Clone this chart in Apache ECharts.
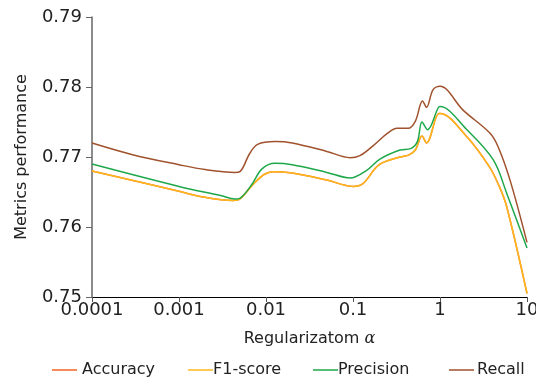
<!DOCTYPE html>
<html>
<head>
<meta charset="utf-8">
<script src="https://cdn.jsdelivr.net/npm/echarts@6/dist/echarts.min.js"></script>
<style>
  html, body { margin: 0; padding: 0; background: #fff; }
  #main { width: 536px; height: 379px; }
</style>
</head>
<body>
<div id="main"></div>
<script>
var myChart = echarts.init(document.getElementById('main'));

var seriesNames = ['Accuracy', 'F1-score', 'Precision', 'Recall'];
var colors = ['#f26522', '#ffb81c', '#1ea84a', '#a0522d'];
var xTickLabels = ['0.0001', '0.001', '0.01', '0.1', '1', '10'];
var yTickLabels = ['0.75', '0.76', '0.77', '0.78', '0.79'];

// [alpha, value] pairs
var accuracy = [
    [0.0001, 0.7680], [0.001, 0.7651], [0.0017, 0.7644], [0.0042, 0.7638], [0.005, 0.7640],
    [0.007, 0.7660], [0.0095, 0.7675], [0.0121, 0.7679], [0.02, 0.7677], [0.05, 0.7667],
    [0.1, 0.7658], [0.13, 0.7662], [0.2, 0.7689], [0.347, 0.7700], [0.44, 0.7703],
    [0.52, 0.7710], [0.62, 0.7730], [0.70, 0.7720], [0.97, 0.7762], [1, 0.7762],
    [2, 0.7730], [3.7, 0.7686], [4.8, 0.7658], [5.85, 0.7629], [10, 0.7505]
];
var f1 = [
    [0.0001, 0.7680], [0.001, 0.7651], [0.0017, 0.7644], [0.0042, 0.7638], [0.005, 0.7640],
    [0.007, 0.7660], [0.0095, 0.7675], [0.0121, 0.7679], [0.02, 0.7677], [0.05, 0.7667],
    [0.1, 0.7658], [0.13, 0.7662], [0.2, 0.7689], [0.347, 0.7700], [0.44, 0.7703],
    [0.52, 0.7710], [0.62, 0.7730], [0.70, 0.7720], [0.97, 0.7762], [1, 0.7762],
    [2, 0.7730], [3.7, 0.7686], [4.8, 0.7658], [5.85, 0.7629], [10, 0.7505]
];
var precision = [
    [0.0001, 0.7690], [0.001, 0.7658], [0.003, 0.7645], [0.0044, 0.7640], [0.005, 0.7641],
    [0.0068, 0.7660], [0.009, 0.7683], [0.0127, 0.7691], [0.02, 0.7689], [0.05, 0.7678],
    [0.0925, 0.7670], [0.1437, 0.7681], [0.204, 0.7697], [0.347, 0.7710], [0.46, 0.7712],
    [0.55, 0.7722], [0.62, 0.7750], [0.72, 0.7739], [0.95, 0.7770], [1, 0.7772],
    [2, 0.7740], [4.1, 0.7696], [5.85, 0.7648], [10, 0.7570]
];
var recall = [
    [0.0001, 0.7720], [0.0003, 0.7703], [0.001, 0.7689], [0.002, 0.7682], [0.0044, 0.7678],
    [0.005, 0.7679], [0.0065, 0.7705], [0.008, 0.7718], [0.0127, 0.7722], [0.02, 0.7720],
    [0.05, 0.7708], [0.0925, 0.7699], [0.12, 0.7702], [0.17, 0.7716], [0.25, 0.7734],
    [0.32, 0.7741], [0.43, 0.7741], [0.52, 0.7751], [0.63, 0.7780], [0.70, 0.7771],
    [0.83, 0.7796], [1, 0.7801], [1.84, 0.7767], [3.76, 0.7734], [4.64, 0.7715],
    [6.38, 0.7667], [10, 0.7578]
];
var allData = [accuracy, f1, precision, recall];

var legendLeft = [52, 188, 313, 449];
var legendTextPad = [0, -5, -5, -2];
var legends = [];
var series = [];
for (var i = 0; i < seriesNames.length; i++) {
    legends.push({
        data: [seriesNames[i]],
        left: legendLeft[i],
        top: 362,
        padding: 0,
        icon: 'rect',
        itemWidth: 25,
        itemHeight: 1.5,
        itemGap: 0,
        textStyle: { color: '#222', fontSize: 16, fontFamily: 'DejaVu Sans', padding: [0, 0, 0, legendTextPad[i]] }
    });
    series.push({
        name: seriesNames[i],
        type: 'line',
        data: allData[i],
        smooth: 0.35,
        showSymbol: false,
        symbol: 'none',
        lineStyle: { width: 1.5, color: colors[i] },
        itemStyle: { color: colors[i] }
    });
}

option = {
    animation: false,
    color: colors,
    legend: legends,
    grid: {
        left: 92,
        right: 9,
        top: 17,
        bottom: 82,
        outerBoundsMode: 'none'
    },
    xAxis: {
        type: 'log',
        logBase: 10,
        min: 0.0001,
        max: 10,
        name: '{a|Regularizatom }{b|α}',
        nameLocation: 'middle',
        nameGap: 34,
        nameTextStyle: {
            rich: {
                a: { fontSize: 16, color: '#222', fontFamily: 'DejaVu Sans' },
                b: { fontSize: 16, color: '#222', fontFamily: 'DejaVu Serif', fontStyle: 'italic' }
            }
        },
        axisLine: { lineStyle: { color: '#000', width: 1 } },
        axisTick: { show: true, length: 5, lineStyle: { color: '#555' } },
        splitLine: { show: false },
        axisLabel: {
            margin: 4,
            fontSize: 18,
            color: '#222',
            fontFamily: 'DejaVu Sans',
            formatter: function (v) {
                var k = Math.round(Math.log10(v)) + 4;
                return xTickLabels[k];
            }
        }
    },
    yAxis: {
        type: 'value',
        min: 0.75,
        max: 0.79,
        interval: 0.01,
        name: 'Metrics performance',
        nameLocation: 'middle',
        nameGap: 62,
        nameTextStyle: { fontSize: 16, color: '#222', fontFamily: 'DejaVu Sans' },
        axisLine: { show: true, lineStyle: { color: '#666', width: 1.5 } },
        axisTick: { show: true, length: 6, lineStyle: { color: '#666' } },
        splitLine: { show: false },
        axisLabel: {
            margin: 10,
            fontSize: 18,
            color: '#222',
            fontFamily: 'DejaVu Sans',
            formatter: function (v) {
                var k = Math.round((v - 0.75) * 100);
                return yTickLabels[k];
            }
        }
    },
    series: series
};

myChart.setOption(option);
</script>
</body>
</html>
